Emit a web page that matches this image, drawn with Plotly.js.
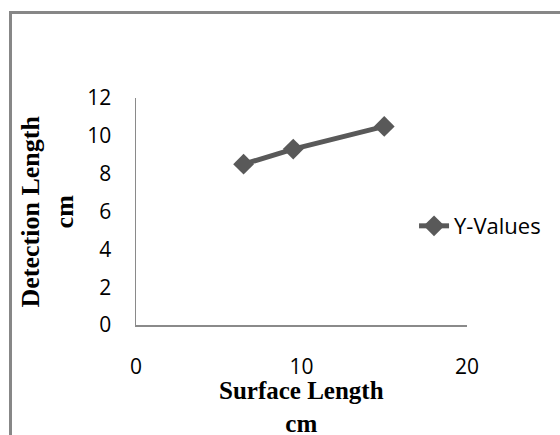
<!DOCTYPE html>
<html>
<head>
<meta charset="utf-8">
<script src="https://cdn.plot.ly/plotly-3.0.1.min.js"></script>
<style>
  html, body { margin: 0; padding: 0; background: #fff; }
  #wrap { position: relative; width: 560px; height: 435px; overflow: hidden; }
  #chart { width: 560px; height: 435px; }
  #frame { position: absolute; left: 9px; top: 11px; width: 600px; height: 500px;
           border-left: 3px solid #878787; border-top: 3px solid #878787; pointer-events: none; }
</style>
</head>
<body>
<div id="wrap">
  <div id="chart"></div>
  <div id="frame"></div>
</div>
<script>
const surfaceLength = [6.5, 9.5, 15];
const detectionLength = [8.5, 9.3, 10.5];
const seriesName = "Y-Values";
const xTickVals = [0, 10, 20];
const yTickVals = [0, 2, 4, 6, 8, 10, 12];
const xTitle = "<b>Surface Length<br>cm</b>";
const yTitle = "<b>Detection Length<br>cm</b>";

const trace = {
  x: surfaceLength,
  y: detectionLength,
  name: seriesName,
  type: "scatter",
  mode: "lines+markers",
  line: { color: "#595959", width: 5 },
  marker: { symbol: "diamond", size: 16, color: "#595959" },
  showlegend: true
};

const tickFont = { family: "Open Sans, sans-serif", size: 21, color: "#000" };
const titleFamily = "Liberation Serif, Times New Roman, serif";

const layout = {
  width: 560, height: 435,
  margin: { l: 136, r: 93, t: 98, b: 110, pad: 0 },
  paper_bgcolor: "#fff", plot_bgcolor: "#fff",
  showlegend: true,
  legend: {
    x: 0.84, xanchor: "left", y: 0.436, yanchor: "middle",
    font: { family: "Open Sans, sans-serif", size: 22, color: "#000" },
    bgcolor: "rgba(0,0,0,0)"
  },
  xaxis: {
    range: [0, 20], tickvals: xTickVals, ticktext: xTickVals.map(String),
    showgrid: false, zeroline: false, showline: true, linecolor: "#8a8a8a", linewidth: 1.5,
    ticks: "", ticklabelstandoff: 22, tickfont: tickFont
  },
  yaxis: {
    range: [0, 12], tickvals: yTickVals, ticktext: yTickVals.map(String),
    showgrid: false, zeroline: false, showline: true, linecolor: "#8a8a8a", linewidth: 1.5,
    ticks: "", ticklabelstandoff: 19, tickfont: tickFont
  },
  annotations: [
    { text: xTitle, xref: "paper", yref: "paper", x: 0.5, y: 0, xanchor: "center", yanchor: "top",
      yshift: -50, showarrow: false, font: { family: titleFamily, size: 25, color: "#000" } },
    { text: yTitle, xref: "paper", yref: "paper", x: -0.266, y: 0.5, xanchor: "center", yanchor: "middle",
      textangle: -90, showarrow: false, font: { family: titleFamily, size: 26, color: "#000" } }
  ]
};

Plotly.newPlot("chart", [trace], layout, { staticPlot: true, displayModeBar: false });
</script>
</body>
</html>
